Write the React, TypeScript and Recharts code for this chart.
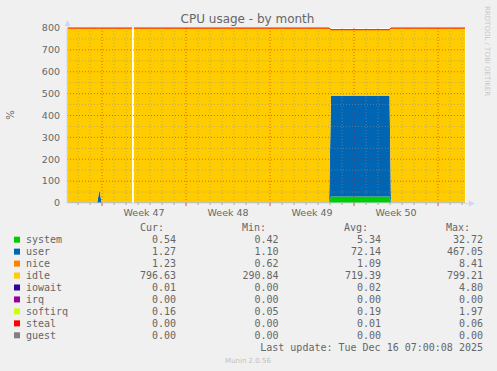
import { AreaChart, Area, XAxis, YAxis, CartesianGrid, ReferenceLine } from "recharts";

// x values are days; day 0 is the first daily grid line after the left edge
const days = [-0.92, -0.6, -0.5, -0.4, 1.6, 1.78, 1.96, 4.5, 4.58, 4.66, 20.92, 21.08, 25.96, 26.08, 32.25];
const system = [0.5, 0.5, 0.6, 0.5, 0.5, 0.8, 0.5, 0.5, null, 0.5, 0.5, 30, 30, 0.5, 0.5];
const user = [1.3, 1.3, 1.3, 1.3, 1.3, 59, 1.3, 1.3, null, 1.3, 1.3, 460, 460, 1.3, 1.3];
const nice = [1.2, 1.2, 8.4, 1.2, 1.2, 1.2, 1.2, 1.2, null, 1.2, 1.2, 1.2, 1.2, 1.2, 1.2];
const idle = [796.6, 796.6, 789.5, 796.6, 796.6, 738.8, 796.6, 796.6, null, 796.6, 796.6, 300.6, 300.6, 796.6, 796.6];
const iowait = [0.01, 0.01, 0.01, 0.01, 0.01, 0.01, 0.01, 0.01, null, 0.01, 0.01, 0.01, 0.01, 0.01, 0.01];
const irq = [0, 0, 0, 0, 0, 0, 0, 0, null, 0, 0, 0, 0, 0, 0];
const softirq = [0.16, 0.16, 0.16, 0.16, 0.16, 0.2, 0.16, 0.16, null, 0.16, 0.16, 0.4, 0.4, 0.16, 0.16];
const steal = [0, 0, 0, 0, 0, 0, 0, 0, null, 0, 0, 0, 0, 0, 0];
const guest = [0, 0, 0, 0, 0, 0, 0, 0, null, 0, 0, 0, 0, 0, 0];

const weekStarts = [2, 9, 16, 23, 30];
const weekMids = [5.5, 12.5, 19.5, 26.5];
const weekLabels = ["Week 47", "Week 48", "Week 49", "Week 50"];
const dayLines = Array.from({ length: 33 }, (_, i) => i);
const yTicks = [0, 100, 200, 300, 400, 500, 600, 700, 800];
const yMinor = [50, 150, 250, 350, 450, 550, 650, 750];

const series = [
  { key: "system", color: "#00CC00", values: system },
  { key: "user", color: "#0066B3", values: user },
  { key: "nice", color: "#FF8000", values: nice },
  { key: "idle", color: "#FFCC00", values: idle },
  { key: "iowait", color: "#330099", values: iowait },
  { key: "irq", color: "#990099", values: irq },
  { key: "softirq", color: "#CCFF00", values: softirq },
  { key: "steal", color: "#FF0000", values: steal },
  { key: "guest", color: "#808080", values: guest },
];

const cur = ["0.54", "1.27", "1.23", "796.63", "0.01", "0.00", "0.16", "0.00", "0.00"];
const min = ["0.42", "1.10", "0.62", "290.84", "0.00", "0.00", "0.05", "0.00", "0.00"];
const avg = ["5.34", "72.14", "1.09", "719.39", "0.02", "0.00", "0.19", "0.01", "0.00"];
const max = ["32.72", "467.05", "8.41", "799.21", "4.80", "0.00", "1.97", "0.06", "0.00"];

const data = days.map((day, i) => {
  const row: Record<string, number | null> = { day };
  series.forEach((s) => (row[s.key] = s.values[i]));
  return row;
});

const FONT = "DejaVu Sans, sans-serif";
const MONO = "DejaVu Sans Mono, monospace";
const TXT = "#666666";
const AXIS = "#CFD6F8";

const XTick = (props: any) => {
  const { x, y, payload } = props;
  const v = payload.value;
  const idx = weekMids.indexOf(v);
  if (idx >= 0) {
    return (
      <text x={x} y={y + 13} textAnchor="middle" fontSize={9.5} fontFamily={FONT} fill={TXT}>
        {weekLabels[idx]}
      </text>
    );
  }
  const major = weekStarts.includes(v);
  return (
    <line x1={x} x2={x} y1={y} y2={y + (major ? 3 : 2)} stroke={major ? "#F00000" : "#8F8F8F"} strokeOpacity={0.7} />
  );
};

export default function App() {
  const rowY = (i: number) => 239.7 + i * 11.95;
  return (
    <div style={{ position: "absolute", left: 0, top: 0, width: 497, height: 371, background: "#F0F0F0", overflow: "hidden" }}>
      <AreaChart width={497} height={371} data={data} margin={{ top: 28, right: 31, left: 27, bottom: 148 }}>
        <CartesianGrid horizontal={false} vertical={false} fill="#FFFFFF" />
        <XAxis
          dataKey="day"
          type="number"
          domain={[-0.92, 32.33]}
          allowDataOverflow
          ticks={[...dayLines, ...weekMids].sort((a, b) => a - b)}
          interval={0}
          tick={<XTick />}
          tickLine={false}
          tickSize={0}
          tickMargin={0}
          height={20}
          axisLine={{ stroke: AXIS }}
        />
        <YAxis
          type="number"
          domain={[0, 800]}
          ticks={yTicks}
          interval={0}
          width={40}
          tickLine={false}
          tickSize={0}
          tickMargin={7}
          tick={{ fill: TXT, fontSize: 9.5, fontFamily: FONT }}
          axisLine={{ stroke: AXIS }}
        />
        {series.map((s) => (
          <Area
            key={s.key}
            dataKey={s.key}
            stackId="cpu"
            type="linear"
            fill={s.color}
            fillOpacity={1}
            stroke={s.key === "steal" ? "#FF0000" : "none"}
            strokeWidth={1}
            connectNulls={false}
            isAnimationActive={false}
          />
        ))}
        {yMinor.map((v) => (
          <ReferenceLine key={"ym" + v} y={v} stroke="#8F8F8F" strokeOpacity={0.55} strokeDasharray="1 2" />
        ))}
        {yTicks.slice(1, -1).map((v) => (
          <ReferenceLine key={"yM" + v} y={v} stroke="#F00000" strokeOpacity={0.55} strokeDasharray="1 2" />
        ))}
        {dayLines.filter((d) => !weekStarts.includes(d)).map((d) => (
          <ReferenceLine key={"xm" + d} x={d} stroke="#8F8F8F" strokeOpacity={0.55} strokeDasharray="1 2" />
        ))}
        {weekStarts.map((d) => (
          <ReferenceLine key={"xM" + d} x={d} stroke="#F00000" strokeOpacity={0.55} strokeDasharray="1 2" />
        ))}
      </AreaChart>
      <svg width={497} height={371} style={{ position: "absolute", left: 0, top: 0, pointerEvents: "none" }}>
        <line x1={67.5} x2={67.5} y1={24} y2={29} stroke={AXIS} />
        <polygon points="67.5,20 64.5,26 70.5,26" fill={AXIS} />
        <line x1={465} x2={470} y1={203.5} y2={203.5} stroke={AXIS} />
        <polygon points="475,203.5 469,200.5 469,206.5" fill={AXIS} />
        <text x={247.5} y={23} textAnchor="middle" fontSize={12} fontFamily={FONT} fill={TXT}>
          CPU usage - by month
        </text>
        <text x={14} y={115} textAnchor="middle" fontSize={10} fontFamily={FONT} fill={TXT} transform="rotate(-90 14 115)">
          %
        </text>
        <text x={485} y={6} fontSize={7} fontFamily={FONT} fill="#C8C8C8" transform="rotate(90 485 6)">
          RRDTOOL / TOBI OETIKER
        </text>
        <g fontFamily={MONO} fontSize={10} fill={TXT}>
          <text x={164} y={231.3} textAnchor="end">Cur:</text>
          <text x={266} y={231.3} textAnchor="end">Min:</text>
          <text x={368} y={231.3} textAnchor="end">Avg:</text>
          <text x={470} y={231.3} textAnchor="end">Max:</text>
          {series.map((s, i) => (
            <g key={s.key}>
              <rect x={14} y={rowY(i) - 3} width={6} height={6} fill={s.color} />
              <text x={26} y={rowY(i) + 3.6}>{s.key}</text>
              <text x={176} y={rowY(i) + 3.6} textAnchor="end">{cur[i]}</text>
              <text x={278.5} y={rowY(i) + 3.6} textAnchor="end">{min[i]}</text>
              <text x={381} y={rowY(i) + 3.6} textAnchor="end">{avg[i]}</text>
              <text x={483} y={rowY(i) + 3.6} textAnchor="end">{max[i]}</text>
            </g>
          ))}
          <text x={483} y={351.3} textAnchor="end">Last update: Tue Dec 16 07:00:08 2025</text>
        </g>
        <text x={248} y={362.5} textAnchor="middle" fontSize={7} fontFamily={FONT} fill="#C0C0C0">
          Munin 2.0.56
        </text>
      </svg>
    </div>
  );
}
